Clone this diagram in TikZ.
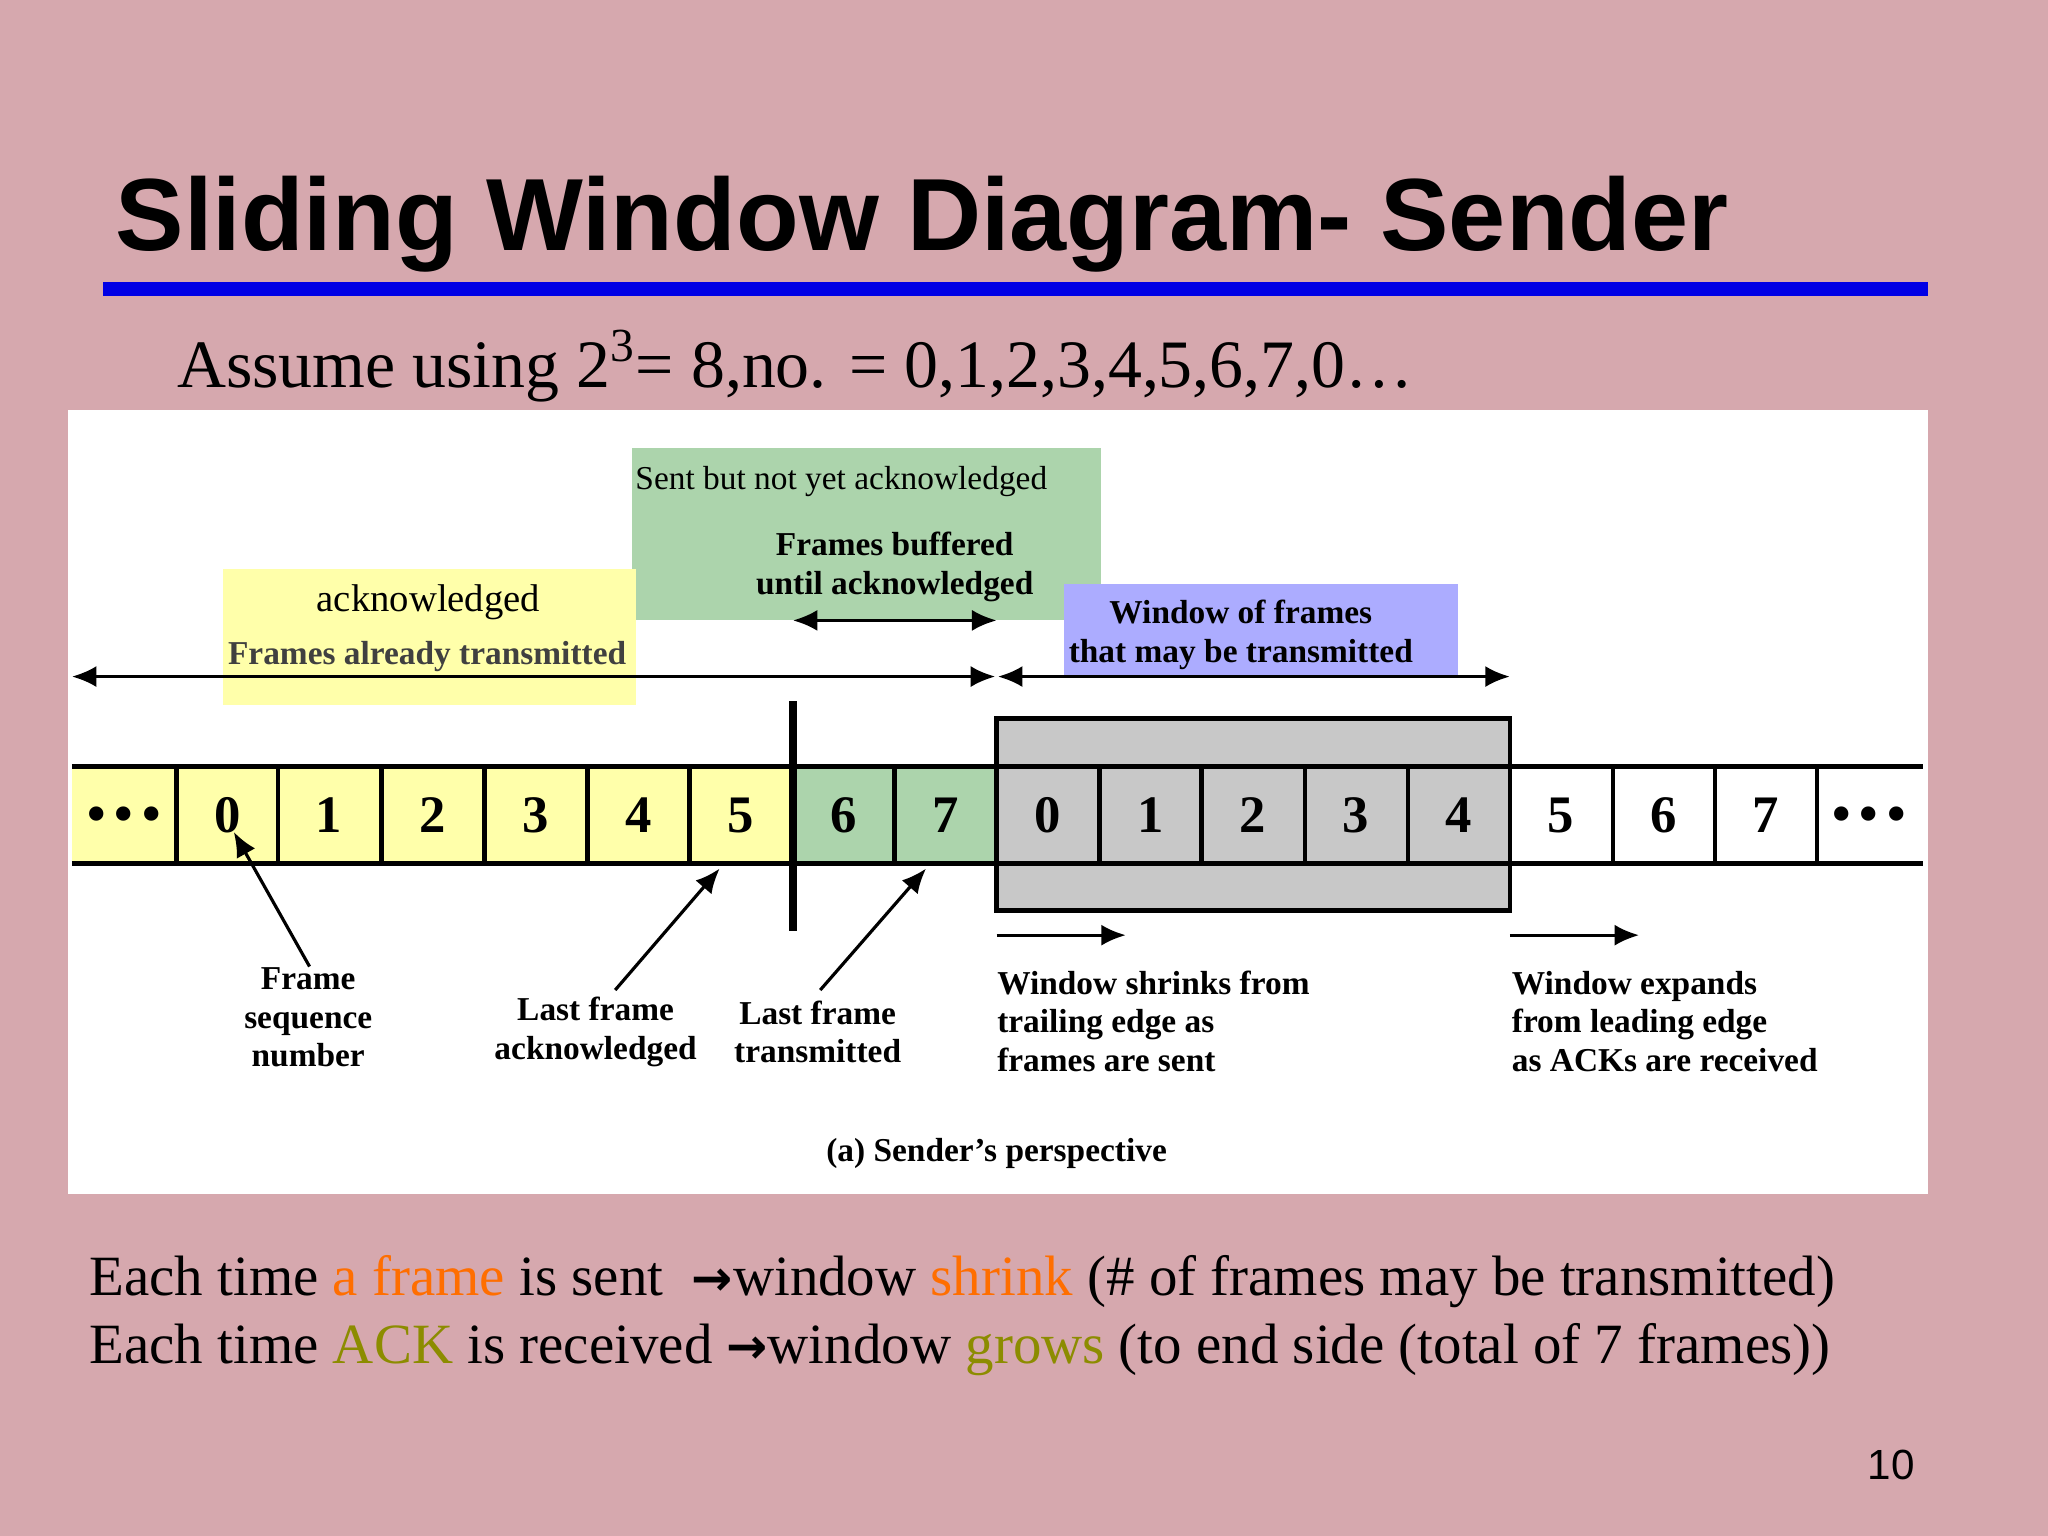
\documentclass[tikz,border=0pt]{standalone}
\usepackage{fontspec}
\setmainfont{Liberation Serif}
\newfontfamily\arial{Liberation Sans}
\newfontfamily\dejavu{DejaVu Sans}
\usetikzlibrary{arrows.meta}
\definecolor{bgpink}{RGB}{214,168,174}
\definecolor{ylw}{RGB}{255,255,170}
\definecolor{grn}{RGB}{172,212,172}
\definecolor{prp}{RGB}{172,172,255}
\definecolor{gry}{RGB}{200,200,200}
\definecolor{orng}{RGB}{255,110,0}
\definecolor{olv}{RGB}{140,140,0}
\begin{document}
\begin{tikzpicture}[x=0.013061cm,y=-0.013061cm,
  lbl/.style={font=\fontsize{9.5}{11}\selectfont\bfseries, align=center, inner sep=0pt},
  lbll/.style={lbl, align=left, anchor=west},
  dig/.style={font=\fontsize{15}{15}\selectfont\bfseries, inner sep=0pt},
  ln/.style={line width=1.3pt},
  arr/.style={line width=0.9pt,-{Latex[length=7pt,width=6pt]}},
  darr/.style={line width=0.9pt,{Latex[length=7pt,width=6pt]}-{Latex[length=7pt,width=6pt]}}]
\useasboundingbox (0,0) rectangle (1568,1176);
\fill[bgpink] (0,0) rectangle (1568,1176);
\node[anchor=base west,inner sep=0pt,font=\arial\bfseries\fontsize{29.2}{30}\selectfont] (title) at (88,192) {Sliding Window Diagram- Sender};
\fill[blue!90!black] (79,216) rectangle (1476,227);
\node[anchor=base west,inner sep=0pt,font=\fontsize{19.3}{24}\selectfont] (assume) at (135,297) {Assume using 2\textsuperscript{3}= 8,no. = 0,1,2,3,4,5,6,7,0\ldots};
\fill[white] (52,314) rectangle (1476,914);
\fill[grn] (484,343) rectangle (843,475);
\fill[ylw] (171,436) rectangle (487,540);
\fill[prp] (815,447) rectangle (1116,518);
\fill[ylw] (55,587) rectangle (607,661);
\fill[grn] (607,587) rectangle (763,661);
\draw[ln,fill=gry] (763,550) rectangle (1156,697);
\draw[ln] (55,587) -- (1472,587);
\draw[ln] (55,661) -- (1472,661);
\foreach \x in {135,213,292,371,450,528,685,842,920,999,1078,1235,1313,1391}
  \draw[ln] (\x,587) -- (\x,661);
\draw[line width=2.2pt] (607,537) -- (607,713);
\node[dig] (d0) at (95,627) {\textbullet\,\textbullet\,\textbullet};
\foreach \c/\d [count=\i] in {174/0,252/1,331/2,410/3,489/4,567/5,646/6,724/7,802/0,881/1,959/2,1038/3,1117/4,1195/5,1274/6,1352/7}
  \node[dig] (c\i) at (\c,624) {\d};
\node[dig] (d1) at (1431,627) {\textbullet\,\textbullet\,\textbullet};
\node[anchor=west,inner sep=0pt,font=\fontsize{9.5}{11}\selectfont] (sent) at (486,369) {Sent but not yet acknowledged};
\node[lbl] (buf) at (685,434) {Frames buffered\\[0pt]until acknowledged};
\node[lbl] (win) at (950,486) {Window of frames\\[0pt]that may be transmitted};
\node[inner sep=0pt,font=\fontsize{11}{12}\selectfont] (ack) at (328,461) {acknowledged};
\node[lbl,text=black!75] (fat) at (327,503) {Frames already transmitted};
\coordinate (a1) at (55,518); \coordinate (a2) at (762,518);
\coordinate (a3) at (764,518); \coordinate (a4) at (1156,518);
\coordinate (b1) at (607,475); \coordinate (b2) at (763,475);
\draw[darr] (a1) -- (a2);
\draw[darr] (a3) -- (a4);
\draw[darr] (b1) -- (b2);
\node[lbl] (fsn) at (236,779) {Frame\\[0pt]sequence\\[0pt]number};
\node[lbl] (lfa) at (456,790) {Last frame\\[0pt]acknowledged};
\node[lbl] (lft) at (626,790) {Last frame\\[0pt]transmitted};
\node[lbll] (wsh) at (763,782) {Window shrinks from\\[0pt]trailing edge as\\[0pt]frames are sent};
\node[lbll] (wex) at (1157,782) {Window expands\\[0pt]from leading edge\\[0pt]as ACKs are received};
\node[lbl] (cap) at (763,883) {(a) Sender's perspective};
\coordinate (p1) at (237,740); \coordinate (q1) at (179,637);
\coordinate (p2) at (471,758); \coordinate (q2) at (551,665);
\coordinate (p3) at (628,758); \coordinate (q3) at (709,665);
\draw[arr] (p1) -- (q1);
\draw[arr] (p2) -- (q2);
\draw[arr] (p3) -- (q3);
\coordinate (s1) at (763,716); \coordinate (s2) at (862,716);
\coordinate (e1) at (1156,716); \coordinate (e2) at (1255,716);
\draw[arr] (s1) -- (s2);
\draw[arr] (e1) -- (e2);
\node[anchor=base west,inner sep=0pt,font=\fontsize{16.2}{20}\selectfont] (t1) at (68,992) {Each time \textcolor{orng}{a frame} is sent \ {\dejavu\bfseries\fontsize{14}{16}\selectfont →}window \textcolor{orng}{shrink} (\# of frames may be transmitted)};
\node[anchor=base west,inner sep=0pt,font=\fontsize{16.2}{20}\selectfont] (t2) at (68,1044) {Each time \textcolor{olv}{ACK} is received {\dejavu\bfseries\fontsize{14}{16}\selectfont →}window \textcolor{olv}{grows} (to end side (total of 7 frames))};
\node[anchor=base,inner sep=0pt,font=\arial\fontsize{12}{14}\selectfont] (pg) at (1448,1133) {10};
\end{tikzpicture}
\end{document}
